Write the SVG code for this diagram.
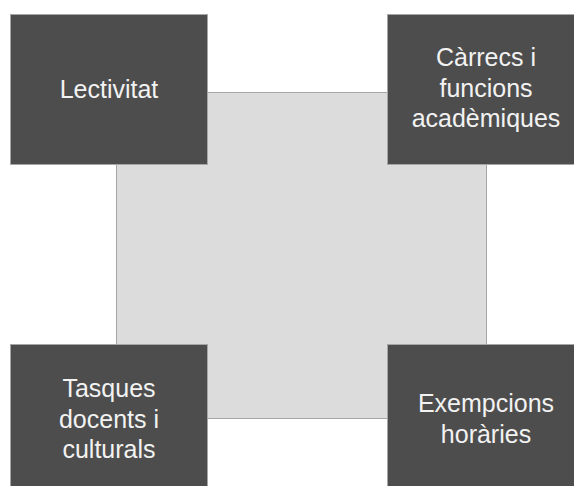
<svg xmlns="http://www.w3.org/2000/svg" width="574" height="486" viewBox="0 0 574 486">
<style>
.box{fill:#4d4d4d;stroke:#a6a6a6;stroke-width:1}
.lbl{font-family:"Liberation Sans",Arial,sans-serif;font-size:25px;fill:#f2f2f2;text-anchor:middle}
</style>
<rect width="574" height="486" fill="#ffffff"/>
<g id="center"><rect x="116.5" y="92.5" width="370" height="326" fill="#dcdcdc" stroke="#a6a6a6" stroke-width="1"/></g>
<g id="connectors"></g>
<g id="lectivitat"><rect class="box" x="10.5" y="14.5" width="197" height="150"/><text class="lbl" x="109" y="98">Lectivitat</text></g>
<g id="carrecs"><rect class="box" x="387.5" y="14.5" width="197" height="150"/><text class="lbl" x="486" y="66">Càrrecs i</text><text class="lbl" x="486" y="97">funcions</text><text class="lbl" x="486" y="127">acadèmiques</text></g>
<g id="tasques"><rect class="box" x="10.5" y="344.5" width="197" height="150"/><text class="lbl" x="109" y="397">Tasques</text><text class="lbl" x="109" y="428">docents i</text><text class="lbl" x="109" y="458">culturals</text></g>
<g id="exempcions"><rect class="box" x="387.5" y="344.5" width="197" height="150"/><text class="lbl" x="486" y="412">Exempcions</text><text class="lbl" x="486" y="443">horàries</text></g>
</svg>
